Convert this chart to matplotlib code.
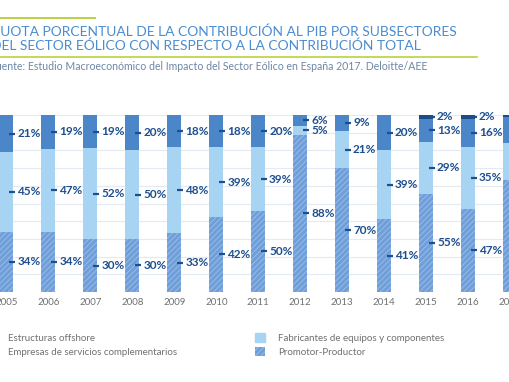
import matplotlib

matplotlib.use("Agg")

import matplotlib.pyplot as plt
import numpy as np
from matplotlib.lines import Line2D
from matplotlib.patches import Patch

plt.rcParams["font.family"] = ["Lato", "DejaVu Sans"]
plt.rcParams["hatch.linewidth"] = 0.6

years = ["2005", "2006", "2007", "2008", "2009", "2010", "2011",
         "2012", "2013", "2014", "2015", "2016", "2017"]
promotor = [34, 34, 30, 30, 33, 42, 50, 88, 70, 41, 55, 47, 63]
fabricantes = [45, 47, 52, 50, 48, 39, 39, 5, 21, 39, 29, 35, 21]
servicios = [21, 19, 19, 20, 18, 18, 20, 6, 9, 20, 13, 16, 15]
offshore = [0, 0, 0, 0, 0, 0, 0, 0, 0, 0, 2, 2, 1]

legend_left = ["Estructuras offshore", "Empresas de servicios complementarios"]
legend_right = ["Fabricantes de equipos y componentes", "Promotor-Productor"]

TITLE_1 = "CUOTA PORCENTUAL DE LA CONTRIBUCIÓN AL PIB POR SUBSECTORES"
TITLE_2 = "DEL SECTOR EÓLICO CON RESPECTO A LA CONTRIBUCIÓN TOTAL"
SOURCE = "Fuente: Estudio Macroeconómico del Impacto del Sector Eólico en España 2017. Deloitte/AEE"

C_TITLE = "#4a8dd0"
C_GREEN = "#b9d340"
C_SOURCE = "#6d87a3"
C_LABEL = "#1d4f8f"
C_OFFSHORE = "#1b4c8a"
C_SERV = "#4a86c8"
C_FAB = "#a8d4f3"
C_PROM = "#6f9ed9"
C_HATCH = "#9cc0ea"
C_GRID = "#e4eaf1"
C_TEXT = "#707070"

W, H = 510, 382
STEP = 42.3  # pixels between bar centres
fig = plt.figure(figsize=(W / 100, H / 100), dpi=100)
ax = fig.add_axes([0, 1 - 292 / H, 1, 177 / H])

x = np.arange(len(years))
width = 14 / STEP
px = 1 / STEP
xmax = (W - 6.5) / STEP

series = [
    (promotor, C_PROM),
    (fabricantes, C_FAB),
    (servicios, C_SERV),
    (offshore, C_OFFSHORE),
]
totals = np.sum([np.array(s) for s, _ in series], axis=0)

bottom = np.zeros(len(years))
for values, color in series:
    vals = np.array(values, dtype=float)
    share = vals / totals * 100
    if color == C_PROM:
        ax.bar(x, share, width, bottom=bottom, color=color, edgecolor=C_HATCH,
               hatch="//////", linewidth=0, zorder=2)
    else:
        ax.bar(x, share, width, bottom=bottom, color=color, linewidth=0, zorder=2)
    for i, (v, s, b) in enumerate(zip(vals, share, bottom)):
        right = x[i] + width / 2
        # the last year's labels fall outside the cropped view
        if v <= 0 or right + 4 * px > xmax:
            continue
        yc = b + s / 2
        ax.plot([right - 4 * px, right + 2 * px], [yc, yc], color=C_LABEL,
                lw=1.6, solid_capstyle="butt", zorder=3, clip_on=False)
        ax.text(right + 4 * px, yc, f"{int(v)}%", color=C_LABEL, fontsize=8.5,
                fontweight="bold", ha="left", va="center", zorder=3)
    bottom = bottom + share

ax.set_xlim(-6.5 / STEP, xmax)
ax.set_ylim(0, 100)
ax.set_yticks(range(0, 101, 10))
ax.set_xticks(x)
ax.set_xticklabels(years, color=C_TEXT, fontsize=7)
ax.tick_params(axis="x", length=0, pad=4)
ax.tick_params(axis="y", length=0, labelleft=False)
ax.yaxis.grid(True, color=C_GRID, lw=0.8)
ax.set_axisbelow(True)
for spine in ax.spines.values():
    spine.set_visible(False)

# header
fig.add_artist(Line2D([0, 95 / W], [1 - 18 / H] * 2, color=C_GREEN, lw=1.4))
fig.add_artist(Line2D([0, 477 / W], [1 - 56.5 / H] * 2, color=C_GREEN, lw=1.2))
fig.text(-9 / W, 1 - 36 / H, TITLE_1, color=C_TITLE, fontsize=10, va="baseline")
fig.text(-9 / W, 1 - 50 / H, TITLE_2, color=C_TITLE, fontsize=10, va="baseline")
fig.text(-10 / W, 1 - 69.5 / H, SOURCE, color=C_SOURCE, fontsize=7.6, va="baseline")

# legend
left_handles = [Patch(color=C_OFFSHORE), Patch(color=C_SERV)]
right_handles = [Patch(color=C_FAB), Patch(facecolor=C_PROM, edgecolor=C_HATCH,
                                            hatch="//////", linewidth=0)]
common = dict(frameon=False, fontsize=7, labelcolor=C_TEXT, handlelength=1.05,
              handleheight=1.0, handletextpad=1.35, labelspacing=0.45,
              borderpad=0, borderaxespad=0, loc="upper left")
fig.legend(left_handles, legend_left, bbox_to_anchor=(-15 / W, 1 - 333 / H), **common)
fig.legend(right_handles, legend_right, bbox_to_anchor=(255 / W, 1 - 333 / H), **common)

fig.savefig("out.png", dpi=100)
